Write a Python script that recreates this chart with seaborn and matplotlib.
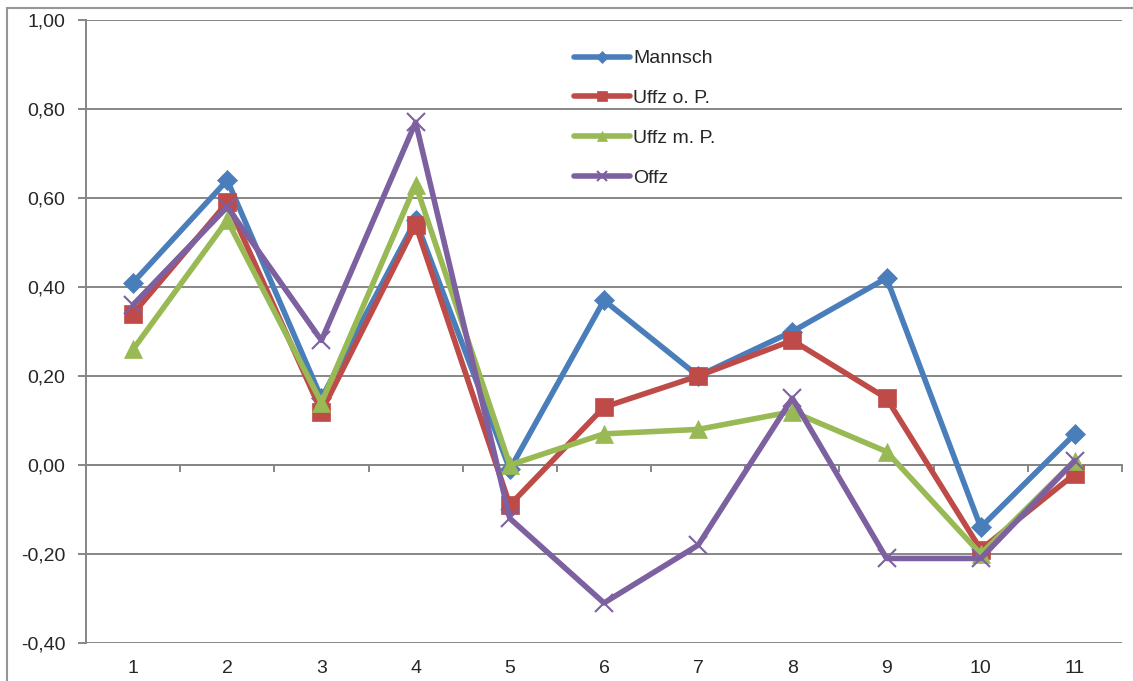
import numpy as np
import pandas as pd
import matplotlib
matplotlib.use("Agg")
import matplotlib.pyplot as plt
import seaborn as sns
from matplotlib.patches import Rectangle

categories = ["1", "2", "3", "4", "5", "6", "7", "8", "9", "10", "11"]
mannsch = [0.41, 0.64, 0.15, 0.55, -0.01, 0.37, 0.20, 0.30, 0.42, -0.14, 0.07]
uffz_op = [0.34, 0.59, 0.12, 0.54, -0.09, 0.13, 0.20, 0.28, 0.15, -0.19, -0.02]
uffz_mp = [0.26, 0.55, 0.14, 0.63, 0.00, 0.07, 0.08, 0.12, 0.03, -0.20, 0.01]
offz = [0.36, 0.58, 0.28, 0.77, -0.12, -0.31, -0.18, 0.15, -0.21, -0.21, 0.01]
series_names = ["Mannsch", "Uffz o. P.", "Uffz m. P.", "Offz"]
y_ticks = [-0.4, -0.2, 0.0, 0.2, 0.4, 0.6, 0.8, 1.0]

sns.set_style("white")
plt.rcParams["font.family"] = ["Liberation Sans", "DejaVu Sans"]

colors = ["#4A7EBB", "#BE4B48", "#98B954", "#7D60A0"]
markers = ["D", "s", "^", "x"]
msizes = [10, 13, 13, 13]

pos = np.arange(len(categories))
df = pd.DataFrame({"pos": np.tile(pos, 4),
                   "value": mannsch + uffz_op + uffz_mp + offz,
                   "series": np.repeat(series_names, len(categories))})

fig = plt.figure(figsize=(11.33, 6.81), dpi=100)
ax = fig.add_axes([86 / 1133, 1 - 643 / 681, 1036 / 1133, 623 / 681])

# grid first
for t in y_ticks:
    ax.axhline(t, color="#868686", lw=1.4, zorder=0)

for name, c, m, ms in zip(series_names, colors, markers, msizes):
    sub = df[df.series == name]
    sns.lineplot(data=sub, x="pos", y="value", ax=ax, color=c, lw=4,
                 marker=m, markersize=ms, markeredgecolor=c,
                 markeredgewidth=1.5 if m == "x" else 0.5, label=name, zorder=3)

ax.set_xlim(-0.5, len(categories) - 0.5)
ax.set_ylim(-0.4, 1.0)
ax.set_yticks(y_ticks)
ax.set_yticklabels([f"{t:.2f}".replace(".", ",") for t in y_ticks], fontsize=14)
ax.set_xticks(pos)
ax.set_xticklabels(categories, fontsize=14)
ax.tick_params(axis="x", length=0, pad=12)
ax.tick_params(axis="y", length=6, width=1.4, color="#868686", pad=9, direction="out", left=True)
ax.set_xlabel("")
ax.set_ylabel("")
for s in ["top", "right", "bottom"]:
    ax.spines[s].set_visible(False)
ax.spines["left"].set_color("#868686")
ax.spines["left"].set_linewidth(1.4)

# category axis sits on zero with tick marks between categories
sec = ax.secondary_xaxis(0.4 / 1.4)
sec.set_xticks(np.arange(len(categories) + 1) - 0.5)
sec.set_xticklabels([])
sec.tick_params(length=5, width=1.4, color="#868686", direction="out")
sec.spines["bottom"].set_color("#868686")
sec.spines["bottom"].set_linewidth(1.4)

ax.legend(loc="upper left", bbox_to_anchor=(564 / 1133, 1 - 40 / 681),
          bbox_transform=fig.transFigure, frameon=False, fontsize=14,
          borderpad=0, labelspacing=1.15, handlelength=2.9, handletextpad=0.15,
          markerscale=0.6)

fig.patches.append(Rectangle((7 / 1133, -0.1), 1.2, 1 - 8 / 681 + 0.1,
                             transform=fig.transFigure, fill=False,
                             edgecolor="#969696", lw=1.5))

fig.savefig("out.png", dpi=100)
